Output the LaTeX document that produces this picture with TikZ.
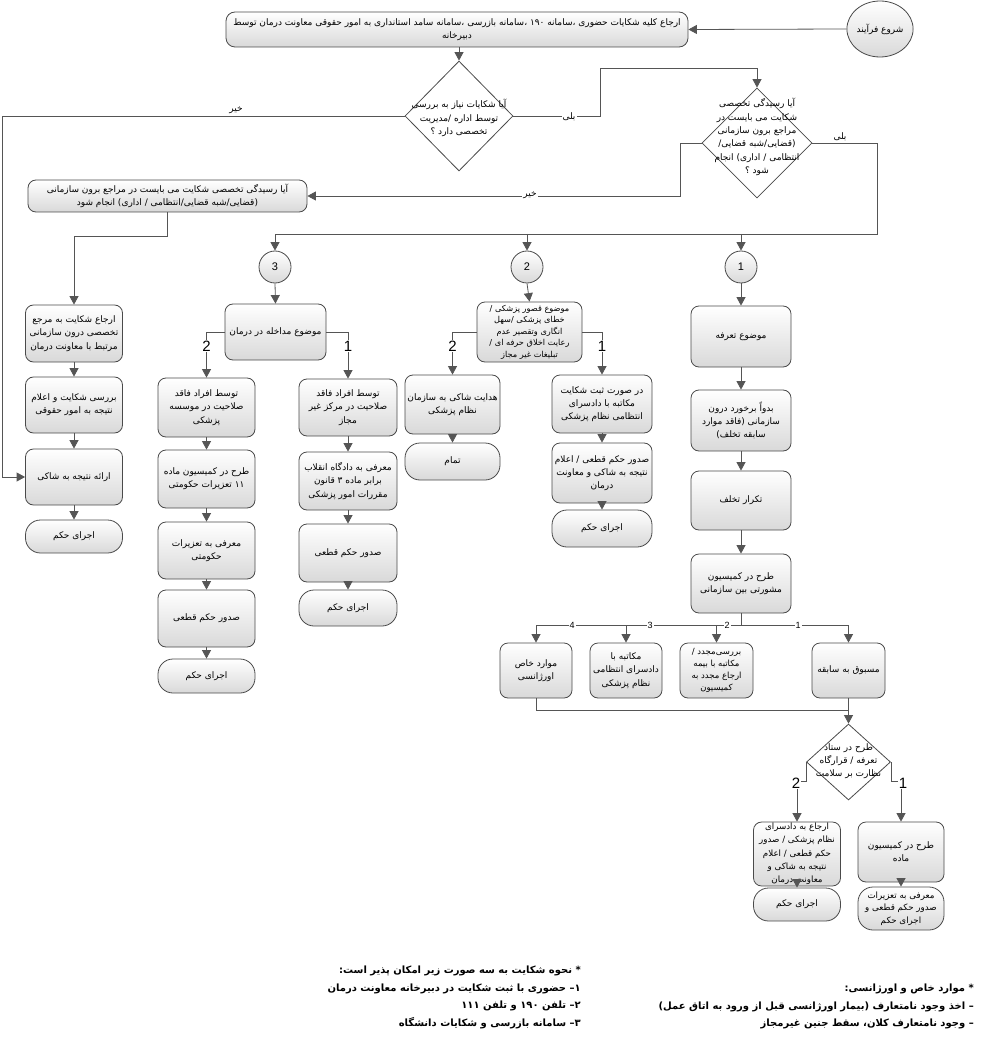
\documentclass[tikz,border=0pt]{standalone}
\usepackage{fontspec}
\usetikzlibrary{arrows.meta,shapes.geometric,calc}
\TeXXeTstate=1
\setmainfont{Liberation Sans}
\newfontfamily\arabicfont[Script=Arabic]{DejaVu Sans}
\definecolor{edge}{HTML}{4A4A4A}
\definecolor{lin}{HTML}{555555}
\tikzset{
  box/.style={draw=edge, rounded corners=8pt, top color=white, bottom color=black!15, line width=0.8pt, inner sep=1pt, align=center, font=\arabicfont\fontsize{9}{13.3}\selectfont},
  term/.style={box, rounded corners=15pt},
  dia/.style={draw=edge, shape=diamond, inner sep=0pt, fill=white, line width=0.8pt},
  dtext/.style={align=center, inner sep=0pt, font=\arabicfont\fontsize{9}{13.3}\selectfont},
  circ/.style={draw=edge, circle, minimum size=32pt, inner sep=0pt, top color=white, bottom color=black!15, line width=0.8pt, font=\fontsize{11}{11}\selectfont},
  ln/.style={draw=lin, line width=0.8pt},
  arr/.style={ln, -{Triangle[width=9pt,length=8.5pt]}},
  big/.style={fill=white, inner sep=1pt, font=\fontsize{15}{15}\selectfont},
  small/.style={fill=white, inner sep=1pt, font=\fontsize{9}{9}\selectfont},
  lab/.style={inner sep=1pt, font=\arabicfont\fontsize{9}{10}\selectfont},
  note/.style={align=right, inner sep=0pt, font=\arabicfont\bfseries\fontsize{10}{17.5}\selectfont}
}
\begin{document}
\begin{tikzpicture}[x=1pt,y=-1pt]
\useasboundingbox (0,0) rectangle (988,1056);
\coordinate (Y234) at (0,234);
\coordinate (Y625) at (0,625);
\coordinate (Y710) at (0,710);
% top
\node[circ, shape=ellipse, minimum width=57pt, minimum height=56pt, font=\arabicfont\fontsize{9}{10}\selectfont] (start) at (880,29) {\beginR شروع فرآیند\endR};
\node[box, minimum width=462pt, minimum height=35pt, rounded corners=9pt] (top) at (457,29.5) {\beginR ارجاع کلیه شکایات حضوری ،سامانه ۱۹۰ ،سامانه بازرسی ،سامانه سامد استانداری به امور حقوقی معاونت درمان توسط\endR\\\beginR دبیرخانه\endR};
\node[dia, minimum width=108pt, minimum height=110pt] (d1) at (459,116) {};
\node[dtext] (d1t) at (459,118) {\beginR آیا شکایات نیاز به بررسی\endR\\\beginR توسط اداره /مدیریت\endR\\\beginR تخصصی دارد ؟\endR};
\node[dia, minimum width=110pt, minimum height=110pt] (d2) at (757,143) {};
\node[dtext] (d2t) at (757,137) {\beginR آیا رسیدگی تخصصی\endR\\\beginR شکایت می بایست در\endR\\\beginR مراجع برون سازمانی\endR\\\beginR (قضایی/شبه قضایی/\endR\\\beginR انتظامی / اداری) انجام\endR\\\beginR شود ؟\endR};
\node[box, minimum width=279pt, minimum height=32pt] (L0) at (167.5,196) {\beginR آیا رسیدگی تخصصی شکایت می بایست در مراجع برون سازمانی\endR\\\beginR (قضایی/شبه قضایی/انتظامی / اداری) انجام شود\endR};
% left column
\node[box, minimum width=97pt, minimum height=57pt] (A) at (74,333.5) {\beginR ارجاع شکایت به مرجع\endR\\\beginR تخصصی درون سازمانی\endR\\\beginR مرتبط با معاونت درمان\endR};
\node[box, minimum width=97pt, minimum height=56pt] (B) at (74,405) {\beginR بررسی شکایت و اعلام\endR\\\beginR نتیجه به امور حقوقی\endR};
\node[box, minimum width=97pt, minimum height=56pt] (C) at (74,477) {\beginR ارائه نتیجه به شاکی\endR};
\node[term, minimum width=97pt, minimum height=33pt] (D) at (74,536.5) {\beginR اجرای حکم\endR};
% circles
\node[circ] (c3) at (275,267) {3};
\node[circ] (c2) at (527,267) {2};
\node[circ] (c1) at (741,267) {1};
% column 3
\node[box, minimum width=101pt, minimum height=56pt] (M3) at (275.5,332) {\beginR موضوع مداخله در درمان\endR};
\node[box, minimum width=97pt, minimum height=59pt] (L31) at (206.5,407.5) {\beginR توسط افراد فاقد\endR\\\beginR صلاحیت در موسسه\endR\\\beginR پزشکی\endR};
\node[box, minimum width=97pt, minimum height=58pt] (L32) at (206.5,479) {\beginR طرح در کمیسیون ماده\endR\\\beginR ۱۱ تعزیرات حکومتی\endR};
\node[box, minimum width=97pt, minimum height=57pt] (L33) at (206.5,550.5) {\beginR معرفی به تعزیرات\endR\\\beginR حکومتی\endR};
\node[box, minimum width=97pt, minimum height=57pt] (L34) at (206.5,618.5) {\beginR صدور حکم قطعی\endR};
\node[term, minimum width=97pt, minimum height=34pt] (L35) at (206.5,676) {\beginR اجرای حکم\endR};
\node[box, minimum width=98pt, minimum height=57pt] (R31) at (348,407.5) {\beginR توسط افراد فاقد\endR\\\beginR صلاحیت در مرکز غیر\endR\\\beginR مجاز\endR};
\node[box, minimum width=98pt, minimum height=58pt] (R32) at (348,481) {\beginR معرفی به دادگاه انقلاب\endR\\\beginR برابر ماده ۳ قانون\endR\\\beginR مقررات امور پزشکی\endR};
\node[box, minimum width=98pt, minimum height=58pt] (R33) at (348,553) {\beginR صدور حکم قطعی\endR};
\node[term, minimum width=98pt, minimum height=36pt] (R34) at (348,608) {\beginR اجرای حکم\endR};
% column 2
\node[box, minimum width=105pt, minimum height=60pt, font=\arabicfont\fontsize{8.2}{11.5}\selectfont] (M2) at (529.5,332) {\beginR موضوع قصور پزشکی /\endR\\\beginR خطای پزشکی /سهل\endR\\\beginR انگاری وتقصیر عدم\endR\\\beginR رعایت اخلاق حرفه ای /\endR\\\beginR تبلیغات غیر مجاز\endR};
\node[box, minimum width=95pt, minimum height=59pt] (L21) at (452.5,404.5) {\beginR هدایت شاکی به سازمان\endR\\\beginR نظام پزشکی\endR};
\node[term, minimum width=95pt, minimum height=37pt] (L22) at (452.5,461.5) {\beginR تمام\endR};
\node[box, minimum width=100pt, minimum height=58pt] (R21) at (602,404) {\beginR در صورت ثبت شکایت\endR\\\beginR مکاتبه با دادسرای\endR\\\beginR انتظامی نظام پزشکی\endR};
\node[box, minimum width=100pt, minimum height=60pt] (R22) at (602,473) {\beginR صدور حکم قطعی / اعلام\endR\\\beginR نتیجه به شاکی و معاونت\endR\\\beginR درمان\endR};
\node[term, minimum width=100pt, minimum height=37pt] (R23) at (602,528.5) {\beginR اجرای حکم\endR};
% column 1
\node[box, minimum width=100pt, minimum height=61pt] (T1) at (741,336.5) {\beginR موضوع تعرفه\endR};
\node[box, minimum width=100pt, minimum height=61pt] (T2) at (741,420.5) {\beginR بدواً برخورد درون\endR\\\beginR سازمانی (فاقد موارد\endR\\\beginR سابقه تخلف)\endR};
\node[box, minimum width=100pt, minimum height=59pt] (T3) at (741,500.5) {\beginR تکرار تخلف\endR};
\node[box, minimum width=100pt, minimum height=59pt] (T4) at (741,583.5) {\beginR طرح در کمیسیون\endR\\\beginR مشورتی بین سازمانی\endR};
\node[box, minimum width=72pt, minimum height=55pt] (E4) at (536,670.5) {\beginR موارد خاص\endR\\\beginR اورژانسی\endR};
\node[box, minimum width=72pt, minimum height=55pt] (E3) at (626,670.5) {\beginR مکاتبه با\endR\\\beginR دادسرای انتظامی\endR\\\beginR نظام پزشکی\endR};
\node[box, minimum width=73pt, minimum height=55pt, font=\arabicfont\fontsize{8.5}{11.8}\selectfont] (E2) at (716.5,670.5) {\beginR بررسی‌مجدد /\endR\\\beginR مکاتبه با بیمه\endR\\\beginR ارجاع مجدد به\endR\\\beginR کمیسیون\endR};
\node[box, minimum width=73pt, minimum height=55pt] (E1) at (848.5,670.5) {\beginR مسبوق به سابقه\endR};
\node[dia, minimum width=84pt, minimum height=76pt] (d3) at (848.5,762) {};
\node[dtext] (d3t) at (848.5,761) {\beginR طرح در ستاد\endR\\\beginR تعرفه / قرارگاه\endR\\\beginR نظارت بر سلامت\endR};
\node[box, minimum width=87pt, minimum height=62pt, font=\arabicfont\fontsize{8.7}{13.3}\selectfont] (F2) at (797,854) {\beginR ارجاع به دادسرای\endR\\\beginR نظام پزشکی / صدور\endR\\\beginR حکم قطعی /  اعلام\endR\\\beginR نتیجه به شاکی و\endR\\\beginR معاونت درمان\endR};
\node[term, minimum width=87pt, minimum height=33pt] (F2t) at (797,904.5) {\beginR اجرای حکم\endR};
\node[box, minimum width=86pt, minimum height=60pt] (F1) at (901,852) {\beginR طرح در کمیسیون\endR\\\beginR ماده\endR};
\node[term, minimum width=86pt, minimum height=43pt, font=\arabicfont\fontsize{8.7}{12.5}\selectfont] (F1t) at (901,908.5) {\beginR معرفی به تعزیرات\endR\\\beginR صدور حکم قطعی و\endR\\\beginR اجرای حکم\endR};
% connectors
\draw[arr] (start.west) -- (top.east);
\draw[arr] (top.south -| d1.north) -- (d1.north);
\draw[arr] (d1.west) -- (2,116) -- (2,477) -- (C.west);
\node[lab, anchor=south] (no1) at (236,115) {\beginR خیر\endR};
\draw[arr] (d1.east) -- (600,116) -- (600,68) -| (d2.north);
\node[lab, fill=white] (yes1) at (569,117) {\beginR بلی\endR};
\draw[arr] (d2.east) -| (877,234) -| (c3.north);
\node[lab, anchor=south] (yes2) at (840,142) {\beginR بلی\endR};
\draw[arr] (c2.north |- Y234) -- (c2.north);
\draw[arr] (c1.north |- Y234) -- (c1.north);
\draw[arr] (d2.west) -- (680,143) -- (680,196) -- (L0.east);
\node[lab, fill=white] (no2) at (530,195) {\beginR خیر\endR};
\draw[arr] (L0.south) -- ++(0,24) -| (A.north);
\draw[arr] (A.south) -- (B.north);
\draw[arr] (B.south) -- (C.north);
\draw[arr] (C.south) -- (D.north);
\draw[arr] (c3.south) -- (M3.north);
\draw[arr] (c2.south) -- (M2.north);
\draw[arr] (c1.south) -- (T1.north);
% col 3
\draw[arr] (M3.west) -| (L31.north);
\node[big] (n32) at (206.5,346) {2};
\draw[arr] (M3.east) -| (R31.north);
\node[big] (n31) at (348,346) {1};
\draw[arr] (L31.south) -- (L32.north);
\draw[arr] (L32.south) -- (L33.north);
\draw[arr] (L33.south) -- (L34.north);
\draw[arr] (L34.south) -- (L35.north);
\draw[arr] (R31.south) -- (R32.north);
\draw[arr] (R32.south) -- (R33.north);
\draw[arr] (R33.south) -- (R34.north);
% col 2
\draw[arr] (M2.west) -| (L21.north);
\node[big] (n22) at (452.5,346) {2};
\draw[arr] (M2.east) -| (R21.north);
\node[big] (n21) at (602,346) {1};
\draw[arr] (L21.south) -- (L22.north);
\draw[arr] (R21.south) -- (R22.north);
\draw[arr] (R22.south) -- (R23.north);
% col 1
\draw[arr] (T1.south) -- (T2.north);
\draw[arr] (T2.south) -- (T3.north);
\draw[arr] (T3.south) -- (T4.north);
\draw[ln] (T4.south) -- (T4.south |- Y625);
\draw[ln] (E4.north |- Y625) -- (E1.north |- Y625);
\draw[arr] (E4.north |- Y625) -- (E4.north);
\draw[arr] (E3.north |- Y625) -- (E3.north);
\draw[arr] (E2.north |- Y625) -- (E2.north);
\draw[arr] (E1.north |- Y625) -- (E1.north);
\node[small] (b4) at (572,625) {4};
\node[small] (b3) at (650,625) {3};
\node[small] (b2) at (727,625) {2};
\node[small] (b1) at (798,625) {1};
\draw[ln] (E4.south) |- (E1.south |- Y710);
\draw[arr] (E1.south) -- (d3.north);
\draw[arr] (d3.west) -- ++(0,19) -| (F2.north);
\node[big] (n42) at (796,783) {2};
\draw[arr] (d3.east) -- ++(0,19) -| (F1.north);
\node[big] (n41) at (903,783) {1};
\draw[arr] (F2.south) -- (F2t.north);
\draw[arr] (F1.south) -- (F1t.north);
% notes
\node[note, anchor=north east] (note1) at (581,966) {\beginR * نحوه شکایت به سه صورت زیر امکان پذیر است:\endR\\\beginR ۱– حضوری با ثبت شکایت در دبیرخانه معاونت درمان\endR\\\beginR ۲– تلفن ۱۹۰ و تلفن ۱۱۱\endR\\\beginR ۳– سامانه بازرسی و شکایات دانشگاه\endR};
\node[note, anchor=north east] (note2) at (974,984) {\beginR * موارد خاص و اورژانسی:\endR\\\beginR – اخذ وجود نامتعارف (بیمار اورژانسی قبل از ورود به اتاق عمل)\endR\\\beginR – وجود نامتعارف کلان، سقط جنین غیرمجاز\endR};
\end{tikzpicture}
\end{document}
